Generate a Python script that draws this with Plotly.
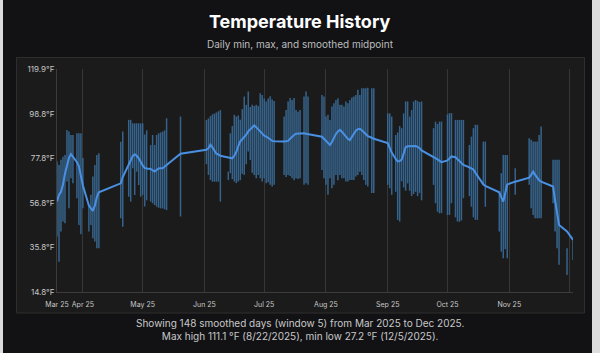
import datetime as dt
import plotly.graph_objects as go

start_date = dt.date(2025, 3, 19)
end_date = dt.date(2025, 12, 3)

day_offset = [0, 1, 2, 3, 4, 5, 6, 7, 8, 10, 11, 12, 13, 16, 17, 18, 19, 20, 21,
              32, 33, 36, 37, 38, 39, 40, 41, 42, 43, 44, 45, 47, 48, 49, 50, 51, 52, 53, 54, 55,
              62, 75, 76, 77, 78, 79, 80, 81, 82, 86,
              87, 88, 89, 90, 91, 92, 93, 94, 95, 96, 97, 98, 99, 100, 101, 102, 103, 104, 105, 106, 107, 108, 109,
              114, 115, 116, 117, 118, 119, 120, 121, 122, 124, 125, 126,
              133, 134, 135, 136, 137, 138, 139, 140, 141, 142, 143, 144, 145, 146, 147, 148, 149, 150, 151, 152,
              153, 154, 155, 156, 158, 159,
              166, 167, 168, 170, 171, 172, 173, 174, 175, 176, 177, 178, 179, 180, 181, 182, 183,
              189, 190, 191, 192, 193, 196, 197, 198, 200, 201, 202, 203, 204, 207, 208, 209, 210, 211, 214, 215,
              222, 223, 224, 225, 226, 230, 237, 238, 239, 240, 241, 242, 243, 249, 250, 251, 252, 256, 259]

low = [40.9, 29.1, 43.3, 48.0, 47.2, 66.9, 54.3, 68.4, 66.1, 59.0, 46.4, 42.0, 54.3, 43.3, 46.4, 40.1, 38.6, 35.4, 35.4,
       49.5, 45.6, 59.7, 57.4, 73.1, 60.5, 71.5, 65.2, 59.7, 60.6, 55.1, 58.0, 57.4, 56.6, 55.8, 55.0, 54.5, 54.2, 54.2, 53.8, 53.4,
       50.4, 75.0, 70.0, 67.6, 66.8, 66.8, 66.8, 66.8, 57.4, 67.6,
       70.8, 68.0, 66.9, 66.1, 66.9, 67.5, 70.5, 70.0, 75.0, 81.0, 77.0, 71.0, 70.0, 68.4, 70.0, 68.4, 66.9, 68.4, 66.0, 66.5, 65.3, 64.5, 65.3,
       70.0, 69.0, 70.0, 69.5, 68.4, 67.5, 68.4, 68.0, 68.4, 65.3, 66.0, 65.3,
       72.3, 68.4, 65.3, 60.6, 68.4, 63.7, 65.3, 70.0, 67.5, 70.0, 68.4, 68.4, 66.9, 66.9, 67.6, 67.6, 67.6, 69.2, 70.0, 71.5,
       70.0, 67.6, 65.3, 64.5, 61.4, 61.4,
       65.3, 63.7, 60.6, 62.0, 48.8, 48.0, 67.0, 64.0, 62.5, 66.0, 62.5, 60.0, 61.0, 62.0, 60.0, 61.5, 58.0,
       65.3, 56.6, 52.6, 51.9, 52.0, 51.1, 51.1, 56.6, 50.0, 48.0, 47.9, 48.5, 59.0, 60.0, 55.0, 50.0, 48.8, 48.8, 65.3, 55.0,
       43.3, 33.8, 30.7, 35.0, 30.7, 60.6, 65.3, 54.3, 51.1, 49.5, 49.5, 49.5, 49.5, 56.6, 43.3, 35.4, 27.6, 22.8, 29.9]

high = [76.3, 74.7, 77.1, 78.6, 79.4, 91.2, 90.4, 88.8, 88.8, 89.6, 89.6, 89.6, 78.0, 55.9, 60.6, 69.2, 74.7, 79.4, 80.2,
        85.6, 90.4, 95.9, 95.9, 94.3, 94.3, 94.3, 94.3, 94.3, 94.3, 89.0, 91.0, 84.1, 88.8, 84.1, 88.8, 89.6, 90.0, 90.4, 91.0, 96.7,
        97.5, 95.9, 96.6, 97.7, 98.5, 98.9, 99.4, 100.0, 100.5, 71.5,
        89.6, 93.0, 98.3, 97.5, 98.0, 96.0, 101.0, 106.9, 103.0, 109.3, 102.0, 103.0, 102.5, 103.0, 102.5, 108.5, 107.7, 106.0, 104.6, 106.0, 107.0, 105.5, 104.8,
        97.5, 100.6, 104.6, 106.2, 105.3, 106.2, 100.6, 99.8, 100.6, 106.9, 109.3, 106.9,
        107.7, 106.9, 97.5, 98.3, 95.9, 102.2, 103.8, 105.3, 106.1, 103.0, 103.0, 102.2, 104.6, 103.8, 105.3, 106.5, 106.9, 107.7, 110.1, 107.7,
        110.8, 110.8, 110.8, 111.1, 110.8, 110.8,
        99.0, 99.0, 97.5, 88.8, 90.0, 93.0, 92.0, 99.0, 104.6, 104.6, 97.5, 100.6, 104.6, 105.3, 104.8, 104.3, 104.6,
        92.0, 95.1, 94.0, 95.1, 95.1, 98.5, 99.1, 99.1, 95.9, 95.9, 95.9, 95.9, 95.9, 84.1, 88.0, 92.0, 93.6, 93.6, 85.7, 85.7,
        62.0, 70.8, 79.4, 79.4, 79.4, 73.1, 87.3, 86.5, 85.7, 85.7, 85.7, 88.8, 92.8, 77.1, 77.1, 77.1, 77.1, 35.4, 39.4]

mid = [57.5, 60.5, 62.0, 65.5, 70.5, 74.5, 78.0, 79.8, 78.5, 76.0, 74.0, 69.0, 65.0, 55.5, 54.0, 53.0, 55.5, 59.5, 61.8,
       66.0, 69.0, 75.0, 77.0, 78.8, 79.7, 79.0, 77.8, 76.0, 74.5, 73.3, 73.0, 72.8, 72.3, 71.6, 72.3, 73.0, 73.1, 73.1, 73.8, 74.7,
       80.0, 81.8, 82.5, 84.3, 83.0, 81.5, 80.0, 79.6, 79.0, 78.2,
       78.0, 77.8, 79.0, 80.8, 83.5, 85.8, 86.8, 87.8, 89.0, 90.5, 91.5, 92.5, 93.3, 92.5, 91.5, 90.2, 89.2, 88.5, 88.0, 87.5, 86.8, 86.0, 85.8,
       85.7, 85.7, 86.0, 87.0, 88.0, 88.8, 89.4, 89.5, 89.6, 89.6, 89.4, 89.2,
       88.0, 87.0, 86.0, 85.0, 84.1, 85.5, 87.5, 89.3, 90.5, 91.2, 90.3, 89.2, 88.0, 87.0, 86.4, 88.0, 89.8, 90.8, 91.5, 91.7,
       91.0, 90.0, 89.0, 88.3, 87.5, 87.0,
       85.0, 83.0, 80.5, 77.5, 76.3, 76.5, 77.2, 80.0, 83.0, 83.5, 83.6, 83.7, 83.8, 83.6, 83.2, 82.6, 81.5,
       78.6, 78.0, 77.3, 76.6, 76.0, 76.8, 77.8, 78.7, 78.3, 77.3, 76.6, 75.6, 74.7, 73.5, 73.0, 72.5, 71.0, 69.5, 65.5, 64.8,
       61.8, 59.5, 57.4, 61.5, 65.5, 66.8, 68.7, 70.0, 71.5, 70.0, 68.5, 67.5, 66.8, 64.5, 58.0, 51.5, 46.4, 43.3, 39.4]

y_tick_values = [14.8, 35.8, 56.8, 77.8, 98.8, 119.9]
y_tick_labels = ["14.8°F", "35.8°F", "56.8°F", "77.8°F", "98.8°F", "119.9°F"]
x_tick_dates = ["2025-03-19", "2025-04-01", "2025-05-01", "2025-06-01", "2025-07-01",
                "2025-08-01", "2025-09-01", "2025-10-01", "2025-11-01", "2025-12-01"]
x_tick_labels = ["Mar 25", "Apr 25", "May 25", "Jun 25", "Jul 25",
                 "Aug 25", "Sep 25", "Oct 25", "Nov 25", ""]

title_text = "Temperature History"
subtitle_text = "Daily min, max, and smoothed midpoint"
caption_text = ("Showing 148 smoothed days (window 5) from Mar 2025 to Dec 2025.<br>"
                "Max high 111.1 °F (8/22/2025), min low 27.2 °F (12/5/2025).")

dates = [start_date + dt.timedelta(days=o) for o in day_offset]

# vertical min-max segments, separated by gaps
seg_x, seg_y = [], []
for d, lo, hi in zip(dates, low, high):
    seg_x += [d, d, None]
    seg_y += [lo, hi, None]

W, H = 600, 353
ML, MR, MT, MB = 57, 27, 69, 61
PW, PH = W - ML - MR, H - MT - MB


def px(x):
    return (x - ML) / PW


def py(y):
    return (H - MB - y) / PH


FONT = "Inter, Roboto, Liberation Sans, sans-serif"

fig = go.Figure()
fig.add_trace(go.Scatter(
    x=seg_x, y=seg_y, mode="lines", connectgaps=False,
    line=dict(color="rgba(58,108,152,0.9)", width=1.5),
    hoverinfo="skip", showlegend=False,
))
fig.add_trace(go.Scatter(
    x=dates, y=mid, mode="lines",
    line=dict(color="#4a90e2", width=2),
    showlegend=False,
))

fig.update_layout(
    width=W, height=H,
    margin=dict(l=ML, r=MR, t=MT, b=MB, pad=0),
    paper_bgcolor="#dcdcdc",
    plot_bgcolor="rgba(0,0,0,0)",
    font=dict(family=FONT, color="#c8c8c8", size=8),
    showlegend=False,
    shapes=[
        dict(type="rect", xref="paper", yref="paper",
             x0=px(3), x1=px(592), y0=py(H + 5), y1=py(-5),
             fillcolor="#121215", line=dict(width=0), layer="below"),
        dict(type="rect", xref="paper", yref="paper",
             x0=px(16.5), x1=px(584.5), y0=py(313), y1=py(57.5),
             fillcolor="#1b1b1b", line=dict(color="#2e2e2e", width=1), layer="below"),
    ],
    annotations=[
        dict(text="<b>" + title_text + "</b>", xref="paper", yref="paper",
             x=px(300), y=py(21), xanchor="center", yanchor="middle", showarrow=False,
             font=dict(family=FONT, size=18, color="#ffffff")),
        dict(text=subtitle_text, xref="paper", yref="paper",
             x=px(300), y=py(44), xanchor="center", yanchor="middle", showarrow=False,
             font=dict(family=FONT, size=10, color="#bdbdbd")),
        dict(text=caption_text, xref="paper", yref="paper",
             x=px(300), y=py(329), xanchor="center", yanchor="middle", showarrow=False,
             font=dict(family=FONT, size=10, color="#c8c8c8")),
    ],
)

fig.update_xaxes(
    type="date",
    range=[start_date.isoformat(), end_date.isoformat()],
    tickmode="array", tickvals=x_tick_dates, ticktext=x_tick_labels,
    tickangle=0, ticklabelstandoff=6,
    showgrid=True, gridcolor="#363636", gridwidth=1,
    showline=True, linecolor="#3c3c3c", linewidth=1,
    zeroline=False, ticks="",
    tickfont=dict(size=7, color="#c8c8c8"),
)
fig.update_yaxes(
    range=[y_tick_values[0], y_tick_values[-1]],
    tickmode="array", tickvals=y_tick_values, ticktext=y_tick_labels,
    showgrid=False, zeroline=False,
    showline=True, linecolor="#3c3c3c", linewidth=1,
    ticks="",
    tickfont=dict(size=8, color="#c8c8c8"),
)

fig.write_html("out.html")
